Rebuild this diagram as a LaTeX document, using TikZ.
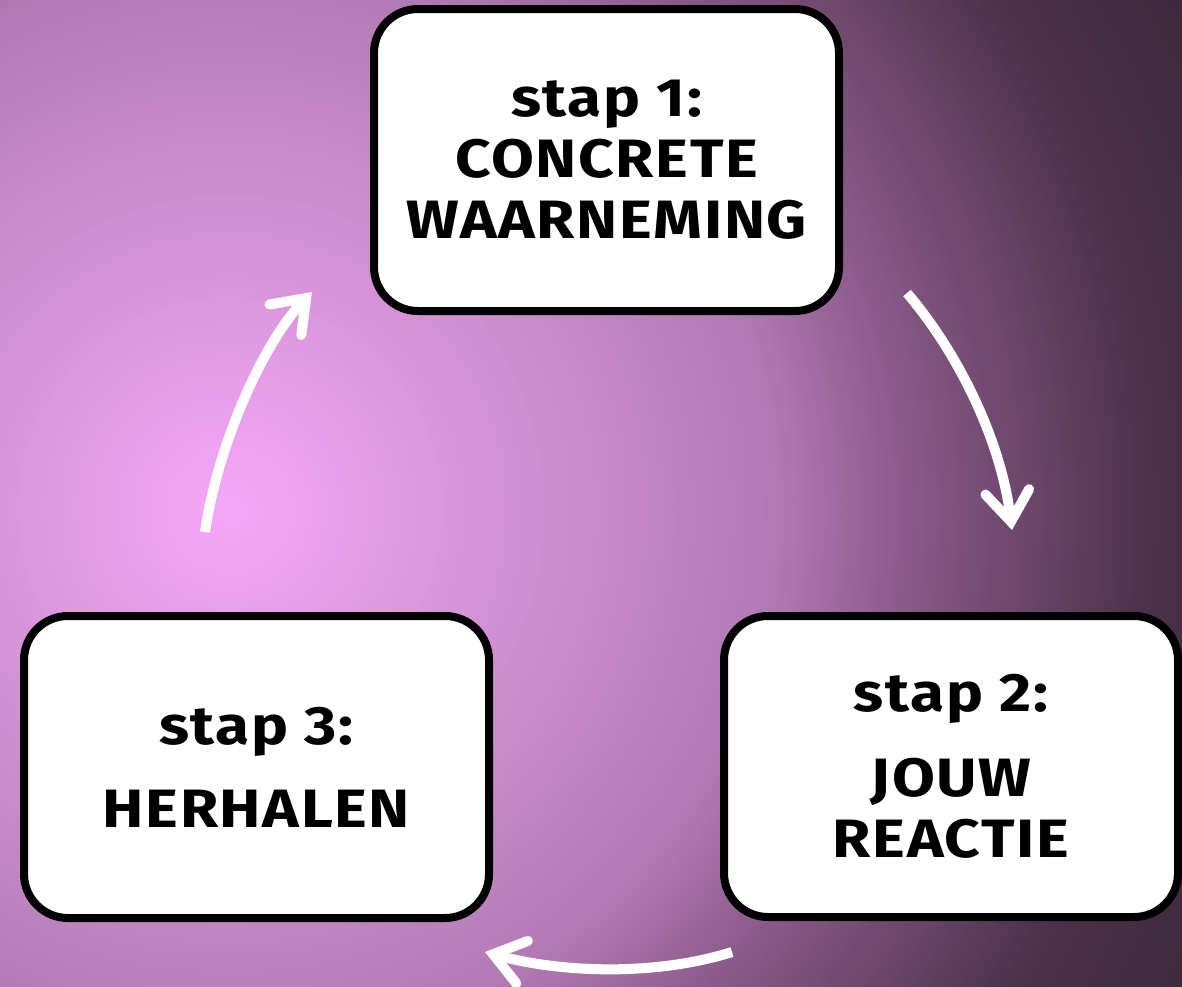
\documentclass[tikz,border=0pt]{standalone}
\usepackage{fontspec}
\setmainfont{Fira Sans}[FakeStretch=1.15,LetterSpace=3]
\usetikzlibrary{arrows.meta}
\definecolor{g0}{RGB}{246,168,250}
\definecolor{g1}{RGB}{200,138,200}
\definecolor{g2}{RGB}{178,122,180}
\definecolor{g3}{RGB}{140,92,140}
\definecolor{g4}{RGB}{74,48,72}
\definecolor{g5}{RGB}{56,38,56}
% #1 inner radius, #2 outer radius, #3 colour at inner, #4 colour at outer
\newcommand\ringseg[4]{%
  \foreach \k in {0,...,40}{%
    \pgfmathsetmacro\rr{#2-(#2-#1)*\k/40}%
    \pgfmathsetmacro\pp{100*\k/40}%
    \fill[#3!\pp!#4] (230,510) circle (\rr);
  }}
\begin{document}
\begin{tikzpicture}[x=0.5pt,y=-0.5pt,
  stepbox/.style={draw=black, line width=4pt, fill=white, rounded corners=22pt,
    align=center, inner sep=0pt,
    font=\bfseries\fontsize{27}{30.5}\selectfont},
  cyc/.style={draw=white, line width=5pt,
    -{Straight Barb[length=15pt,width=22pt,line cap=round,line join=miter]}}]
\useasboundingbox (0,0) rectangle (1182,986);
\begin{scope}
  \clip (0,0) rectangle (1182,986);
  \ringseg{930}{1150}{g4}{g5}
  \ringseg{670}{930}{g3}{g4}
  \ringseg{545}{670}{g2}{g3}
  \ringseg{370}{545}{g1}{g2}
  \ringseg{0}{370}{g0}{g1}
\end{scope}

\node[stepbox, minimum width=232.5pt, minimum height=151pt] (s1) at (606.5,160)
  {stap 1:\\CONCRETE\\WAARNEMING};
\node[stepbox, minimum width=227pt, minimum height=150.5pt] (s2) at (951,766.5)
  {stap 2:\\[12pt]JOUW\\REACTIE};
\node[stepbox, minimum width=232.5pt, minimum height=151pt] (s3) at (256.5,767)
  {stap 3:\\[11pt]HERHALEN};

\coordinate (a1s) at (907,293);
\coordinate (a1e) at (1012,530);
\coordinate (a2s) at (732,952);
\coordinate (a2e) at (485,952);
\coordinate (a3s) at (205,532);
\coordinate (a3e) at (312,292);

\draw[cyc] (a1s) .. controls (959,354) and (1001,441) .. (a1e);
\draw[cyc] (a2s) .. controls (656,976) and (562,973) .. (a2e);
\draw[cyc] (a3s) .. controls (218,443) and (264,342) .. (a3e);
\end{tikzpicture}
\end{document}
